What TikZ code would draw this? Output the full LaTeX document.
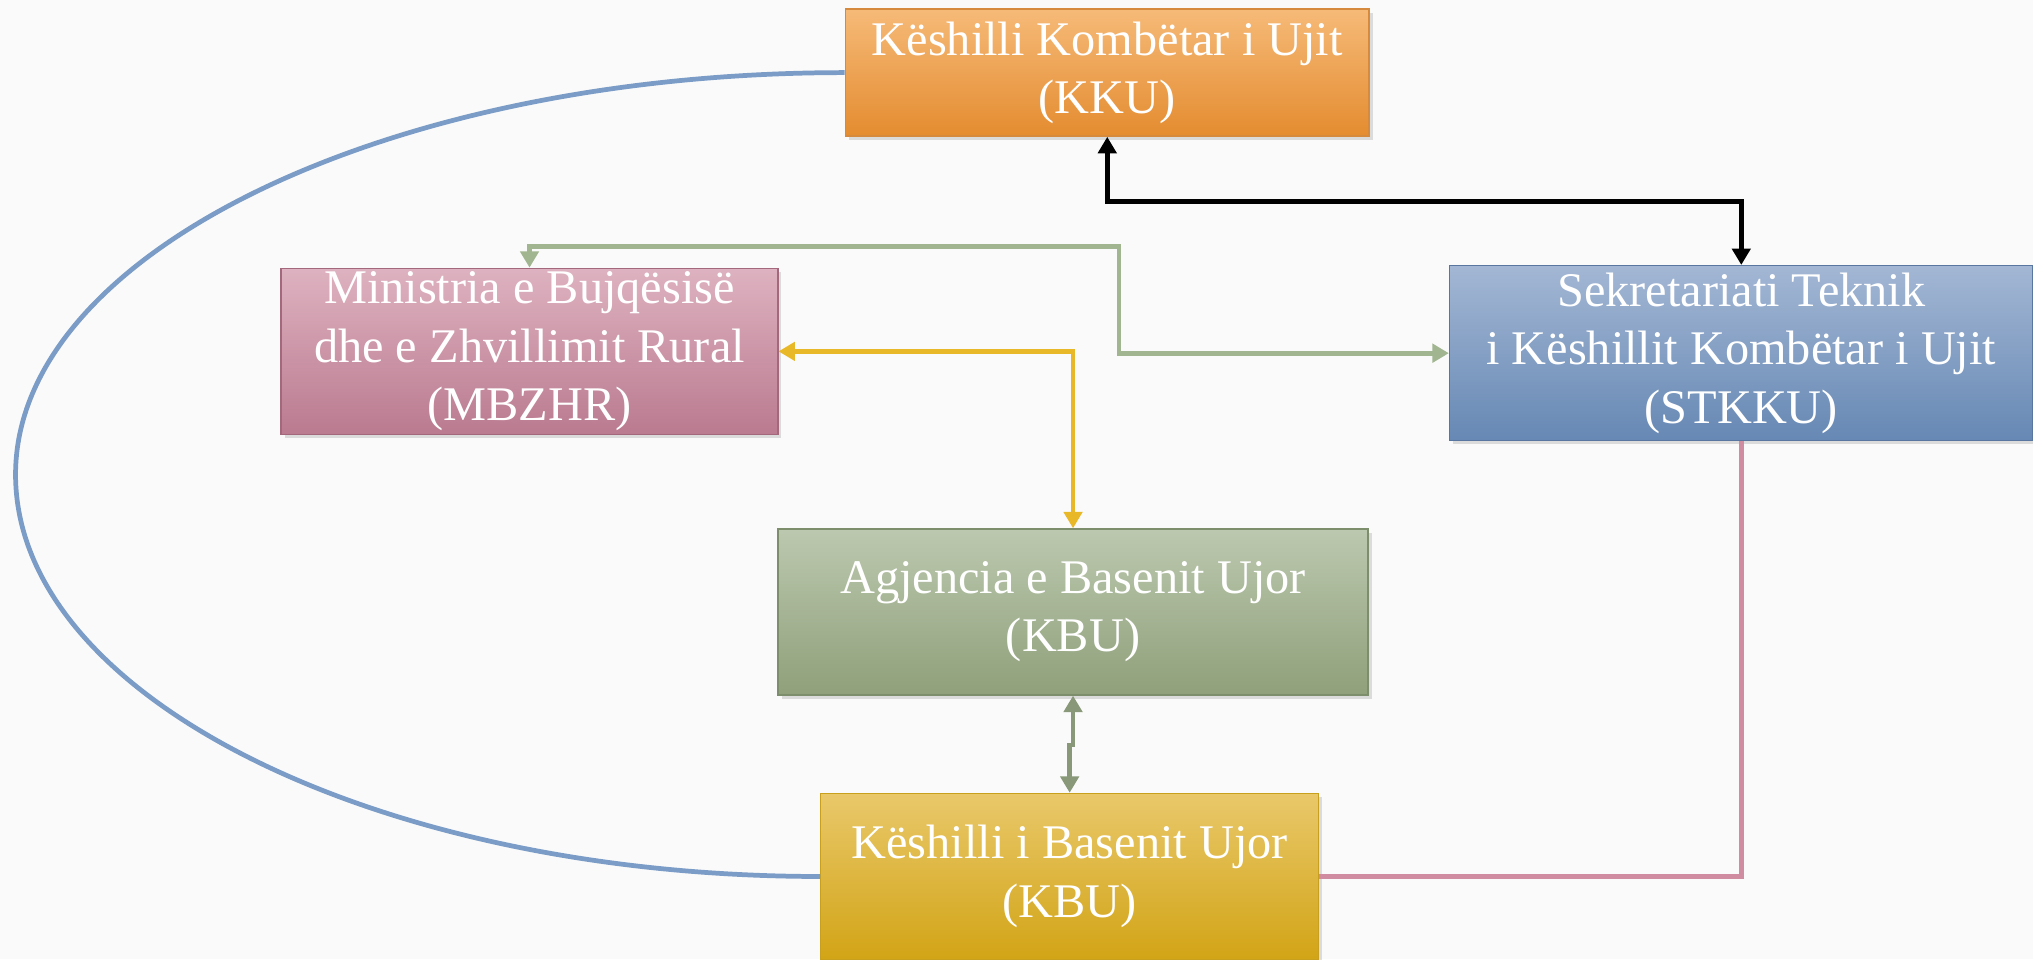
\documentclass[tikz,border=0pt]{standalone}
\usepackage{fontspec}
\setmainfont{Liberation Serif}
\usetikzlibrary{calc,arrows.meta,shadows}
\definecolor{bgpage}{RGB}{250,250,250}
\definecolor{kkutop}{RGB}{246,186,120}
\definecolor{kkubot}{RGB}{228,140,48}
\definecolor{kkuline}{RGB}{214,138,62}
\definecolor{mintop}{RGB}{222,178,192}
\definecolor{minbot}{RGB}{186,122,143}
\definecolor{minline}{RGB}{164,104,124}
\definecolor{sektop}{RGB}{163,183,212}
\definecolor{sekbot}{RGB}{102,136,180}
\definecolor{sekline}{RGB}{88,118,160}
\definecolor{agjtop}{RGB}{188,200,175}
\definecolor{agjbot}{RGB}{143,160,122}
\definecolor{agjline}{RGB}{125,142,108}
\definecolor{kbutop}{RGB}{233,200,106}
\definecolor{kbubot}{RGB}{210,164,22}
\definecolor{kbuline}{RGB}{200,160,30}
\definecolor{arcblue}{RGB}{122,156,198}
\definecolor{linksage}{RGB}{160,181,144}
\definecolor{linkgold}{RGB}{232,184,41}
\definecolor{linkolive}{RGB}{136,152,120}
\definecolor{linkrose}{RGB}{208,140,160}
\tikzset{
  >={Triangle[width=10pt,length=9pt]},
  org/.style={rectangle, draw=#1line, line width=0.8pt, top color=#1top,
    bottom color=#1bot, text=white, align=center,
    font=\fontsize{26.5}{32}\selectfont, inner sep=0pt,
    drop shadow={opacity=0.25, shadow xshift=2pt, shadow yshift=-2pt}},
  link/.style={line width=2.6pt, #1},
}

\begin{document}
\begin{tikzpicture}
    \pgfmathsetmacro{\hx}{8.8};
    \pgfmathsetmacro{\hy}{4.28};
      \useasboundingbox (0,0) rectangle (39.2,-18.5);
      \fill[bgpage] (0,0) rectangle (39.2,-18.5);

      \node[org=kku, minimum width=10.1cm, minimum height=2.45cm] (kku) at (21.35,-1.4)
        {Këshilli Kombëtar i Ujit\\(KKU)};
      \node[org=min, minimum width=9.575cm, minimum height=3.2cm] (mbzhr) at (10.21,-6.775)
        {Ministria e Bujqësisë\\dhe e Zhvillimit Rural\\(MBZHR)};
      \node[org=sek, minimum width=11.25cm, minimum height=3.375cm] (stkku) at (33.575,-6.81)
        {Sekretariati Teknik\\i Këshillit Kombëtar i Ujit\\(STKKU)};
      \node[org=agj, minimum width=11.375cm, minimum height=3.2cm] (agj) at (20.69,-11.8)
        {Agjencia e Basenit Ujor\\(KBU)};
      \node[org=kbu, minimum width=9.6cm, minimum height=3.2cm] (kbu) at (20.625,-16.9)
        {Këshilli i Basenit Ujor\\(KBU)};

      \coordinate (gbend) at (21.575,-4.75);
      \coordinate (arcleft) at (0.3,-9.15);

      \draw[link=black, line width=3pt, <->] (kku.south) -- ++(0,-1.25) -| (stkku.north);
      \draw[link=linksage, <->] (mbzhr.north) |- (gbend) |- (stkku.west);
      \draw[link=linkgold, <->] (mbzhr.east) -| (agj.north);
      \draw[link=linkolive, <->] (agj.south) -- ++(0,-0.95) -| (kbu.north);
      \draw[link=linkrose] (stkku.south) |- (kbu.east);
      \draw[link=arcblue] (kku.west) .. controls +(-\hx,0) and +(0,\hy) .. (arcleft)
        .. controls +(0,-\hy) and +(-8.56,0) .. (kbu.west);
  \end{tikzpicture}
\end{document}
